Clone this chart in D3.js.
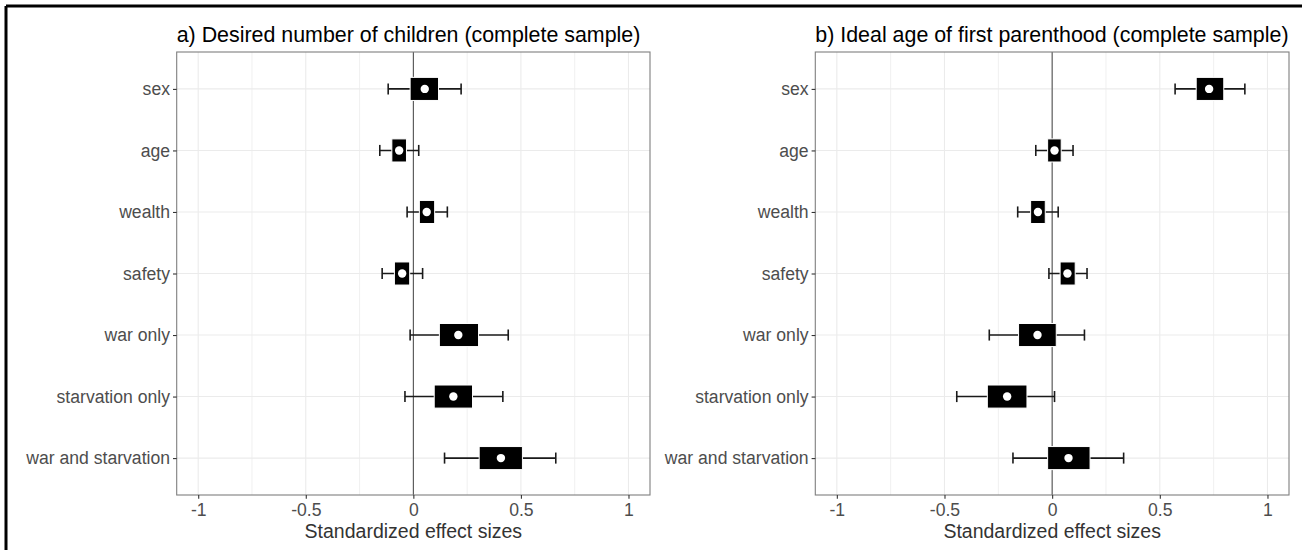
<!DOCTYPE html>
<html>
<head>
<meta charset="utf-8">
<script src="https://cdn.jsdelivr.net/npm/d3@7"></script>
<style>
  body { margin: 0; background: #fff; }
  text { font-family: "Liberation Sans", Arial, sans-serif; }
</style>
</head>
<body>
<svg id="chart" width="1302" height="550"></svg>
<script>
// categories, top to bottom
var categories = ["sex", "age", "wealth", "safety", "war only", "starvation only", "war and starvation"];
var xTicks = [-1, -0.5, 0, 0.5, 1];
var xTickLabels = ["-1", "-0.5", "0", "0.5", "1"];

// panel a) desired number of children
var childEst  = [0.053, -0.066, 0.062, -0.052, 0.209, 0.186, 0.407];
var childLo   = [-0.015, -0.100, 0.028, -0.088, 0.121, 0.097, 0.306];
var childHi   = [0.117, -0.032, 0.099, -0.017, 0.303, 0.275, 0.507];
var childCiLo = [-0.117, -0.156, -0.029, -0.145, -0.015, -0.039, 0.145];
var childCiHi = [0.222, 0.025, 0.158, 0.043, 0.441, 0.416, 0.662];

// panel b) ideal age of first parenthood
var ageEst  = [0.729, 0.011, -0.066, 0.071, -0.068, -0.209, 0.076];
var ageLo   = [0.669, -0.021, -0.100, 0.037, -0.156, -0.301, -0.021];
var ageHi   = [0.797, 0.042, -0.032, 0.107, 0.019, -0.117, 0.176];
var ageCiLo = [0.571, -0.076, -0.160, -0.015, -0.292, -0.443, -0.182];
var ageCiHi = [0.895, 0.097, 0.028, 0.162, 0.150, 0.011, 0.332];

var svg = d3.select("#chart");

// outer frame (only top/left visible in the crop)
svg.append("line").attr("x1", 6).attr("y1", 6).attr("x2", 1302).attr("y2", 6)
  .style("stroke", "#000").style("stroke-width", 3);
svg.append("line").attr("x1", 6).attr("y1", 6).attr("x2", 6).attr("y2", 550)
  .style("stroke", "#000").style("stroke-width", 3);

var panelTop = 52, panelBottom = 495;

function drawPanel(left, right, title, est, lo, hi, ciLo, ciHi) {
  var x = d3.scaleLinear().domain([-1.1, 1.1]).range([left, right]);
  var y = d3.scalePoint().domain(categories).range([panelTop, panelBottom]).padding(0.6);
  var step = y.step();

  var g = svg.append("g");

  // minor grid
  g.selectAll(".minor").data([-0.75, -0.25, 0.25, 0.75]).enter().append("line")
    .attr("x1", function (d) { return x(d); }).attr("x2", function (d) { return x(d); })
    .attr("y1", panelTop).attr("y2", panelBottom)
    .style("stroke", "#f0f0f0").style("stroke-width", 1);

  // major grid
  g.selectAll(".majx").data(xTicks).enter().append("line")
    .attr("x1", function (d) { return x(d); }).attr("x2", function (d) { return x(d); })
    .attr("y1", panelTop).attr("y2", panelBottom)
    .style("stroke", "#ebebeb").style("stroke-width", 1.1);
  g.selectAll(".majy").data(categories).enter().append("line")
    .attr("x1", left).attr("x2", right)
    .attr("y1", function (d) { return y(d); }).attr("y2", function (d) { return y(d); })
    .style("stroke", "#ebebeb").style("stroke-width", 1.1);

  // zero line
  g.append("line").attr("x1", x(0)).attr("x2", x(0)).attr("y1", panelTop).attr("y2", panelBottom)
    .style("stroke", "#444").style("stroke-width", 1);

  var rows = categories.map(function (c, i) {
    return { cat: c, est: est[i], lo: lo[i], hi: hi[i], ciLo: ciLo[i], ciHi: ciHi[i] };
  });

  var capH = step * 0.09;
  var whisker = g.selectAll(".wh").data(rows).enter().append("g");
  whisker.append("line")
    .attr("x1", function (d) { return x(d.ciLo); }).attr("x2", function (d) { return x(d.ciHi); })
    .attr("y1", function (d) { return y(d.cat); }).attr("y2", function (d) { return y(d.cat); });
  whisker.append("line")
    .attr("x1", function (d) { return x(d.ciLo); }).attr("x2", function (d) { return x(d.ciLo); })
    .attr("y1", function (d) { return y(d.cat) - capH; }).attr("y2", function (d) { return y(d.cat) + capH; });
  whisker.append("line")
    .attr("x1", function (d) { return x(d.ciHi); }).attr("x2", function (d) { return x(d.ciHi); })
    .attr("y1", function (d) { return y(d.cat) - capH; }).attr("y2", function (d) { return y(d.cat) + capH; });
  whisker.selectAll("line").style("stroke", "#1a1a1a").style("stroke-width", 1.6);

  var boxH = step * 0.375;
  g.selectAll(".box").data(rows).enter().append("rect")
    .attr("x", function (d) { return x(d.lo); })
    .attr("width", function (d) { return x(d.hi) - x(d.lo); })
    .attr("y", function (d) { return y(d.cat) - boxH / 2; })
    .attr("height", boxH)
    .style("fill", "#000").style("stroke", "#fff").style("stroke-width", 1);

  g.selectAll(".dot").data(rows).enter().append("circle")
    .attr("cx", function (d) { return x(d.est); })
    .attr("cy", function (d) { return y(d.cat); })
    .attr("r", 4.2)
    .style("fill", "#fff");

  // panel border
  g.append("rect").attr("x", left).attr("y", panelTop)
    .attr("width", right - left).attr("height", panelBottom - panelTop)
    .style("fill", "none").style("stroke", "#7f7f7f").style("stroke-width", 1.1);

  // axes
  var xAxis = d3.axisBottom(x).tickValues(xTicks)
    .tickFormat(function (d, i) { return xTickLabels[i]; })
    .tickSize(3.7).tickPadding(4.5);
  var ax = g.append("g").attr("transform", "translate(0," + panelBottom + ")").call(xAxis);
  ax.select(".domain").remove();
  ax.selectAll(".tick line").style("stroke", "#333").style("stroke-width", 1.1);
  ax.selectAll(".tick text").style("fill", "#4d4d4d").style("font-size", "17.6px");

  var yAxis = d3.axisLeft(y).tickSize(3.7).tickPadding(3);
  var ay = g.append("g").attr("transform", "translate(" + left + ",0)").call(yAxis);
  ay.select(".domain").remove();
  ay.selectAll(".tick line").style("stroke", "#333").style("stroke-width", 1.1);
  ay.selectAll(".tick text").style("fill", "#4d4d4d").style("font-size", "17.6px");

  g.append("text")
    .attr("x", (left + right) / 2).attr("y", 538)
    .attr("text-anchor", "middle")
    .style("font-size", "19.5px").style("fill", "#333")
    .text("Standardized effect sizes");

  g.append("text")
    .attr("x", left).attr("y", 42)
    .style("font-size", "21.4px").style("fill", "#000")
    .text(title);
}

drawPanel(176.7, 650, "a) Desired number of children (complete sample)",
  childEst, childLo, childHi, childCiLo, childCiHi);
drawPanel(815.3, 1289, "b) Ideal age of first parenthood (complete sample)",
  ageEst, ageLo, ageHi, ageCiLo, ageCiHi);
</script>
</body>
</html>
